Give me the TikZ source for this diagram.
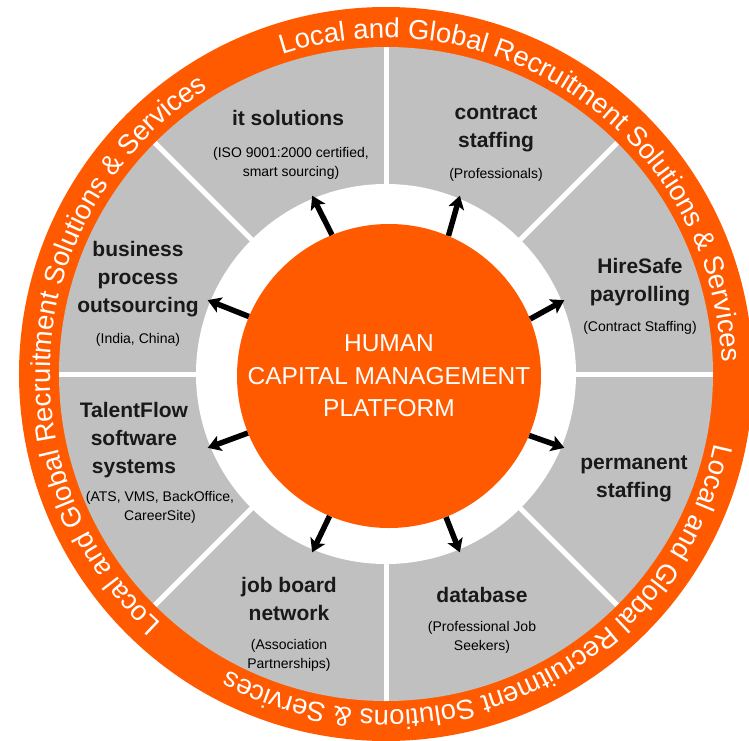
\documentclass[tikz,border=0pt]{standalone}
\usepackage{fontspec}
\setmainfont{Liberation Sans}
\usetikzlibrary{arrows.meta, decorations.text}
\definecolor{hcmorange}{RGB}{255,90,0}
\definecolor{secgray}{RGB}{192,192,192}
\tikzset{>={Stealth[length=13pt,width=16pt,inset=3pt]}}
\newcommand{\ringfont}{\fontsize{27.5}{30}\selectfont}

\begin{document}
\begin{tikzpicture}[x=1pt,y=1pt,
  sectitle/.style={font=\bfseries\fontsize{21}{28}\selectfont, align=center, text=black!90},
  secnote/.style={font=\fontsize{14}{19}\selectfont, align=center},
  ringtext/.style={decorate, decoration={text along path, text color=white,
    text={|\ringfont|Local and Global Recruitment Solutions {\&} Services}}},
  spoke/.style={->, line width=5.5pt}]
\useasboundingbox (-386,-366) rectangle (363,374);
\clip (-386,-366) rectangle (363,374);
\fill[hcmorange] (0,0) circle (367);
\fill[secgray] (0,0) circle (327);
\draw[white, line width=5pt] (0:327) -- (180:327);
\draw[white, line width=5pt] (45:327) -- (225:327);
\draw[white, line width=5pt] (90:327) -- (270:327);
\draw[white, line width=5pt] (135:327) -- (315:327);
\fill[white] (0,0) circle (190);
\path[ringtext] (108:336) arc[start angle=108, end angle=-8, radius=336];
\path[ringtext] (-12:336) arc[start angle=-12, end angle=-128, radius=336];
\path[ringtext] (-132:336) arc[start angle=-132, end angle=-248, radius=336];
\node[circle, fill=hcmorange, minimum size=304pt, text=white, align=center,
  font=\fontsize{24.5}{32.5}\selectfont] (hcm) at (3,-2)
  {HUMAN\\CAPITAL MANAGEMENT\\PLATFORM};
\node[sectitle] (its) at (-98,256) {it solutions};
\node[secnote] (itsnote) at (-95,211) {(ISO 9001:2000 certified,\\smart sourcing)};
\node[sectitle] (contract) at (110,245) {contract\\staffing};
\node[secnote] (contractnote) at (110,199) {(Professionals)};
\node[sectitle] (hiresafe) at (254,92) {HireSafe\\payrolling};
\node[secnote] (hiresafenote) at (254,46) {(Contract Staffing)};
\node[sectitle] (permanent) at (248,-105) {permanent\\staffing};
\node[sectitle] (database) at (96,-221) {database};
\node[secnote] (databasenote) at (96,-263.5) {(Professional Job\\Seekers)};
\node[sectitle] (jobboard) at (-97,-224.5) {job board\\network};
\node[secnote] (jobboardnote) at (-97,-281) {(Association\\Partnerships)};
\node[sectitle] (talentflow) at (-252,-66.5) {TalentFlow\\software\\systems};
\node[secnote] (talentflownote) at (-226,-133.5) {(ATS, VMS, BackOffice,\\CareerSite)};
\node[sectitle] (bpo) at (-248,95) {business\\process\\outsourcing};
\node[secnote] (bponote) at (-248,34) {(India, China)};
\coordinate (tip1) at (22.5:193);
\coordinate (tip2) at (67.5:193);
\coordinate (tip3) at (112.5:193);
\coordinate (tip4) at (157.5:193);
\coordinate (tip5) at (202.5:193);
\coordinate (tip6) at (247.5:193);
\coordinate (tip7) at (292.5:193);
\coordinate (tip8) at (337.5:193);
\draw[spoke] (hcm.22.5) -- (tip1);
\draw[spoke] (hcm.67.5) -- (tip2);
\draw[spoke] (hcm.112.5) -- (tip3);
\draw[spoke] (hcm.157.5) -- (tip4);
\draw[spoke] (hcm.202.5) -- (tip5);
\draw[spoke] (hcm.247.5) -- (tip6);
\draw[spoke] (hcm.292.5) -- (tip7);
\draw[spoke] (hcm.337.5) -- (tip8);
\end{tikzpicture}
\end{document}
